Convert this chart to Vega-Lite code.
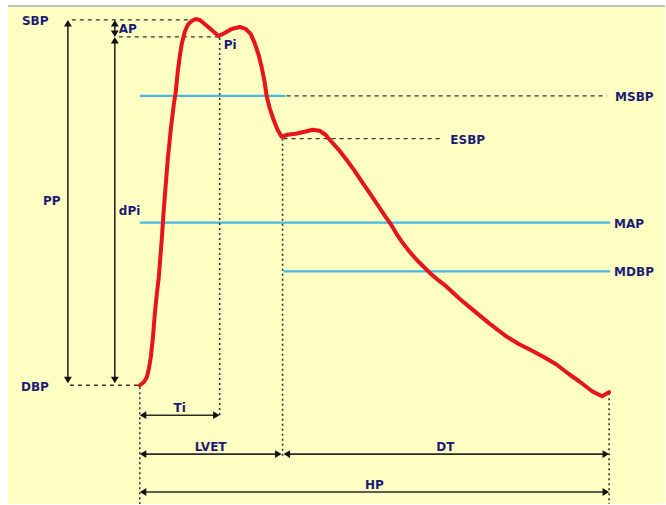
{
  "$schema": "https://vega.github.io/schema/vega-lite/v6.json",
  "width": 666,
  "height": 505,
  "padding": 0,
  "autosize": {"type": "fit", "contains": "padding"},
  "background": "#ffffff",
  "config": {"view": {"stroke": null}},
  "datasets": {
    "panel": [{"x": 8, "x2": 666, "y": 7, "y2": 505}],
    "curve": [
      {"t": 140, "p": 386}, {"t": 144, "p": 383}, {"t": 147, "p": 378}, {"t": 149, "p": 370},
      {"t": 151, "p": 358}, {"t": 153, "p": 340}, {"t": 155, "p": 315}, {"t": 157, "p": 295},
      {"t": 159, "p": 278}, {"t": 162, "p": 240}, {"t": 164, "p": 210}, {"t": 166, "p": 185},
      {"t": 168, "p": 160}, {"t": 171, "p": 130}, {"t": 174, "p": 105}, {"t": 176, "p": 92},
      {"t": 178, "p": 72}, {"t": 180, "p": 57}, {"t": 182, "p": 44}, {"t": 185, "p": 32},
      {"t": 188, "p": 25}, {"t": 192, "p": 21}, {"t": 196, "p": 19}, {"t": 200, "p": 20},
      {"t": 205, "p": 24}, {"t": 212, "p": 30}, {"t": 219, "p": 36}, {"t": 225, "p": 33},
      {"t": 232, "p": 29}, {"t": 240, "p": 27}, {"t": 246, "p": 29}, {"t": 251, "p": 34},
      {"t": 255, "p": 43}, {"t": 259, "p": 55}, {"t": 262, "p": 67}, {"t": 265, "p": 82},
      {"t": 267, "p": 96}, {"t": 270, "p": 108}, {"t": 274, "p": 120}, {"t": 278, "p": 130},
      {"t": 282, "p": 137}, {"t": 288, "p": 135}, {"t": 296, "p": 134}, {"t": 305, "p": 132},
      {"t": 313, "p": 130}, {"t": 320, "p": 131}, {"t": 326, "p": 135}, {"t": 332, "p": 142},
      {"t": 340, "p": 151}, {"t": 347, "p": 160}, {"t": 355, "p": 171}, {"t": 363, "p": 183},
      {"t": 372, "p": 196}, {"t": 380, "p": 208}, {"t": 386, "p": 217}, {"t": 391, "p": 224},
      {"t": 397, "p": 234}, {"t": 403, "p": 243}, {"t": 410, "p": 252}, {"t": 417, "p": 260},
      {"t": 424, "p": 267}, {"t": 430, "p": 273}, {"t": 438, "p": 280}, {"t": 447, "p": 287},
      {"t": 460, "p": 299}, {"t": 473, "p": 310}, {"t": 490, "p": 324}, {"t": 507, "p": 337},
      {"t": 520, "p": 345}, {"t": 530, "p": 350}, {"t": 545, "p": 358}, {"t": 557, "p": 365},
      {"t": 570, "p": 375}, {"t": 580, "p": 382}, {"t": 593, "p": 392}, {"t": 603, "p": 397},
      {"t": 610, "p": 393}
    ],
    "segments": [
      {"x": 8, "y": 6, "x2": 666, "y2": 6, "kind": "frame"},
      {"x": 68, "y": 22, "x2": 68, "y2": 382, "kind": "solid"},
      {"x": 115, "y": 22, "x2": 115, "y2": 35, "kind": "solid"},
      {"x": 115, "y": 39, "x2": 115, "y2": 382, "kind": "solid"},
      {"x": 142, "y": 416, "x2": 218, "y2": 416, "kind": "solid"},
      {"x": 142, "y": 455, "x2": 280, "y2": 455, "kind": "solid"},
      {"x": 286, "y": 455, "x2": 608, "y2": 455, "kind": "solid"},
      {"x": 142, "y": 493, "x2": 608, "y2": 493, "kind": "solid"},
      {"x": 72, "y": 20, "x2": 194, "y2": 20, "kind": "dashed"},
      {"x": 119, "y": 37, "x2": 219, "y2": 37, "kind": "dashed"},
      {"x": 70, "y": 386, "x2": 139, "y2": 386, "kind": "dashed"},
      {"x": 287, "y": 96, "x2": 608, "y2": 96, "kind": "dashed"},
      {"x": 284, "y": 139, "x2": 443, "y2": 139, "kind": "dashed"},
      {"x": 220, "y": 38, "x2": 220, "y2": 418, "kind": "dotted"},
      {"x": 283, "y": 139, "x2": 283, "y2": 458, "kind": "dotted"},
      {"x": 140, "y": 388, "x2": 140, "y2": 505, "kind": "dotted"},
      {"x": 610, "y": 394, "x2": 610, "y2": 505, "kind": "dotted"},
      {"x": 140, "y": 96, "x2": 286, "y2": 96, "kind": "blue"},
      {"x": 140, "y": 223, "x2": 611, "y2": 223, "kind": "blue"},
      {"x": 284, "y": 272, "x2": 611, "y2": 272, "kind": "blue"}
    ],
    "heads": [
      {"x": 68, "y": 20, "dir": "up"}, {"x": 68, "y": 384, "dir": "down"},
      {"x": 115, "y": 20, "dir": "up"}, {"x": 115, "y": 37, "dir": "down"},
      {"x": 115, "y": 37, "dir": "up"}, {"x": 115, "y": 384, "dir": "down"},
      {"x": 140, "y": 416, "dir": "left"}, {"x": 220, "y": 416, "dir": "right"},
      {"x": 140, "y": 455, "dir": "left"}, {"x": 282, "y": 455, "dir": "right"},
      {"x": 284, "y": 455, "dir": "left"}, {"x": 610, "y": 455, "dir": "right"},
      {"x": 140, "y": 493, "dir": "left"}, {"x": 610, "y": 493, "dir": "right"}
    ],
    "labels": [
      {"x": 22, "y": 21, "text": "SBP", "anchor": "left"},
      {"x": 119, "y": 29, "text": "AP", "anchor": "left"},
      {"x": 224, "y": 45, "text": "Pi", "anchor": "left"},
      {"x": 43, "y": 201, "text": "PP", "anchor": "left"},
      {"x": 119, "y": 211, "text": "dPi", "anchor": "left"},
      {"x": 21, "y": 388, "text": "DBP", "anchor": "left"},
      {"x": 616, "y": 97, "text": "MSBP", "anchor": "left"},
      {"x": 451, "y": 140, "text": "ESBP", "anchor": "left"},
      {"x": 615, "y": 224, "text": "MAP", "anchor": "left"},
      {"x": 615, "y": 273, "text": "MDBP", "anchor": "left"},
      {"x": 180, "y": 409, "text": "Ti", "anchor": "center"},
      {"x": 211, "y": 448, "text": "LVET", "anchor": "center"},
      {"x": 446, "y": 448, "text": "DT", "anchor": "center"},
      {"x": 375, "y": 486, "text": "HP", "anchor": "center"}
    ]
  },
  "layer": [
    {
      "data": {"name": "panel"},
      "mark": {"type": "rect", "fill": "#ffffc4", "stroke": null},
      "encoding": {
        "x": {"field": "x", "type": "quantitative", "axis": null, "scale": {"domain": [0, 666], "nice": false, "zero": false}},
        "x2": {"field": "x2"},
        "y": {"field": "y", "type": "quantitative", "axis": null, "scale": {"domain": [0, 505], "nice": false, "zero": false, "reverse": true}},
        "y2": {"field": "y2"}
      }
    },
    {
      "data": {"name": "segments"},
      "transform": [{"filter": "datum.kind === 'frame'"}],
      "mark": {"type": "rule", "stroke": "#a4aca0", "strokeWidth": 1.5},
      "encoding": {
        "x": {"field": "x", "type": "quantitative"}, "x2": {"field": "x2"},
        "y": {"field": "y", "type": "quantitative"}, "y2": {"field": "y2"}
      }
    },
    {
      "data": {"name": "segments"},
      "transform": [{"filter": "datum.kind === 'blue'"}],
      "mark": {"type": "rule", "stroke": "#45b8e6", "strokeWidth": 2.2},
      "encoding": {
        "x": {"field": "x", "type": "quantitative"}, "x2": {"field": "x2"},
        "y": {"field": "y", "type": "quantitative"}, "y2": {"field": "y2"}
      }
    },
    {
      "data": {"name": "segments"},
      "transform": [{"filter": "datum.kind === 'dashed'"}],
      "mark": {"type": "rule", "stroke": "#333333", "strokeWidth": 1.3, "strokeDash": [4, 4]},
      "encoding": {
        "x": {"field": "x", "type": "quantitative"}, "x2": {"field": "x2"},
        "y": {"field": "y", "type": "quantitative"}, "y2": {"field": "y2"}
      }
    },
    {
      "data": {"name": "segments"},
      "transform": [{"filter": "datum.kind === 'dotted'"}],
      "mark": {"type": "rule", "stroke": "#333333", "strokeWidth": 1.6, "strokeDash": [2, 3]},
      "encoding": {
        "x": {"field": "x", "type": "quantitative"}, "x2": {"field": "x2"},
        "y": {"field": "y", "type": "quantitative"}, "y2": {"field": "y2"}
      }
    },
    {
      "data": {"name": "segments"},
      "transform": [{"filter": "datum.kind === 'solid'"}],
      "mark": {"type": "rule", "stroke": "#2a2a2a", "strokeWidth": 1.6},
      "encoding": {
        "x": {"field": "x", "type": "quantitative"}, "x2": {"field": "x2"},
        "y": {"field": "y", "type": "quantitative"}, "y2": {"field": "y2"}
      }
    },
    {
      "data": {"name": "heads"},
      "mark": {"type": "point", "filled": true, "fill": "#111111", "stroke": null, "opacity": 1, "size": 170},
      "encoding": {
        "x": {"field": "x", "type": "quantitative"},
        "y": {"field": "y", "type": "quantitative"},
        "shape": {
          "field": "dir", "type": "nominal", "legend": null,
          "scale": {
            "domain": ["up", "down", "left", "right"],
            "range": ["M0,0L-0.6,1L0.6,1Z", "M0,0L-0.6,-1L0.6,-1Z", "M0,0L1,-0.6L1,0.6Z", "M0,0L-1,-0.6L-1,0.6Z"]
          }
        }
      }
    },
    {
      "data": {"name": "curve"},
      "mark": {"type": "line", "stroke": "#e8141c", "strokeWidth": 4, "strokeJoin": "round", "strokeCap": "round"},
      "encoding": {
        "x": {"field": "t", "type": "quantitative"},
        "y": {"field": "p", "type": "quantitative"},
        "order": {"field": "t", "type": "quantitative"}
      }
    },
    {
      "data": {"name": "labels"},
      "transform": [{"filter": "datum.anchor === 'left'"}],
      "mark": {"type": "text", "align": "left", "baseline": "middle", "font": "DejaVu Sans", "fontWeight": "bold", "fontSize": 12, "fill": "#1c1c74"},
      "encoding": {
        "x": {"field": "x", "type": "quantitative"},
        "y": {"field": "y", "type": "quantitative"},
        "text": {"field": "text"}
      }
    },
    {
      "data": {"name": "labels"},
      "transform": [{"filter": "datum.anchor === 'center'"}],
      "mark": {"type": "text", "align": "center", "baseline": "middle", "font": "DejaVu Sans", "fontWeight": "bold", "fontSize": 12, "fill": "#1c1c74"},
      "encoding": {
        "x": {"field": "x", "type": "quantitative"},
        "y": {"field": "y", "type": "quantitative"},
        "text": {"field": "text"}
      }
    }
  ]
}
